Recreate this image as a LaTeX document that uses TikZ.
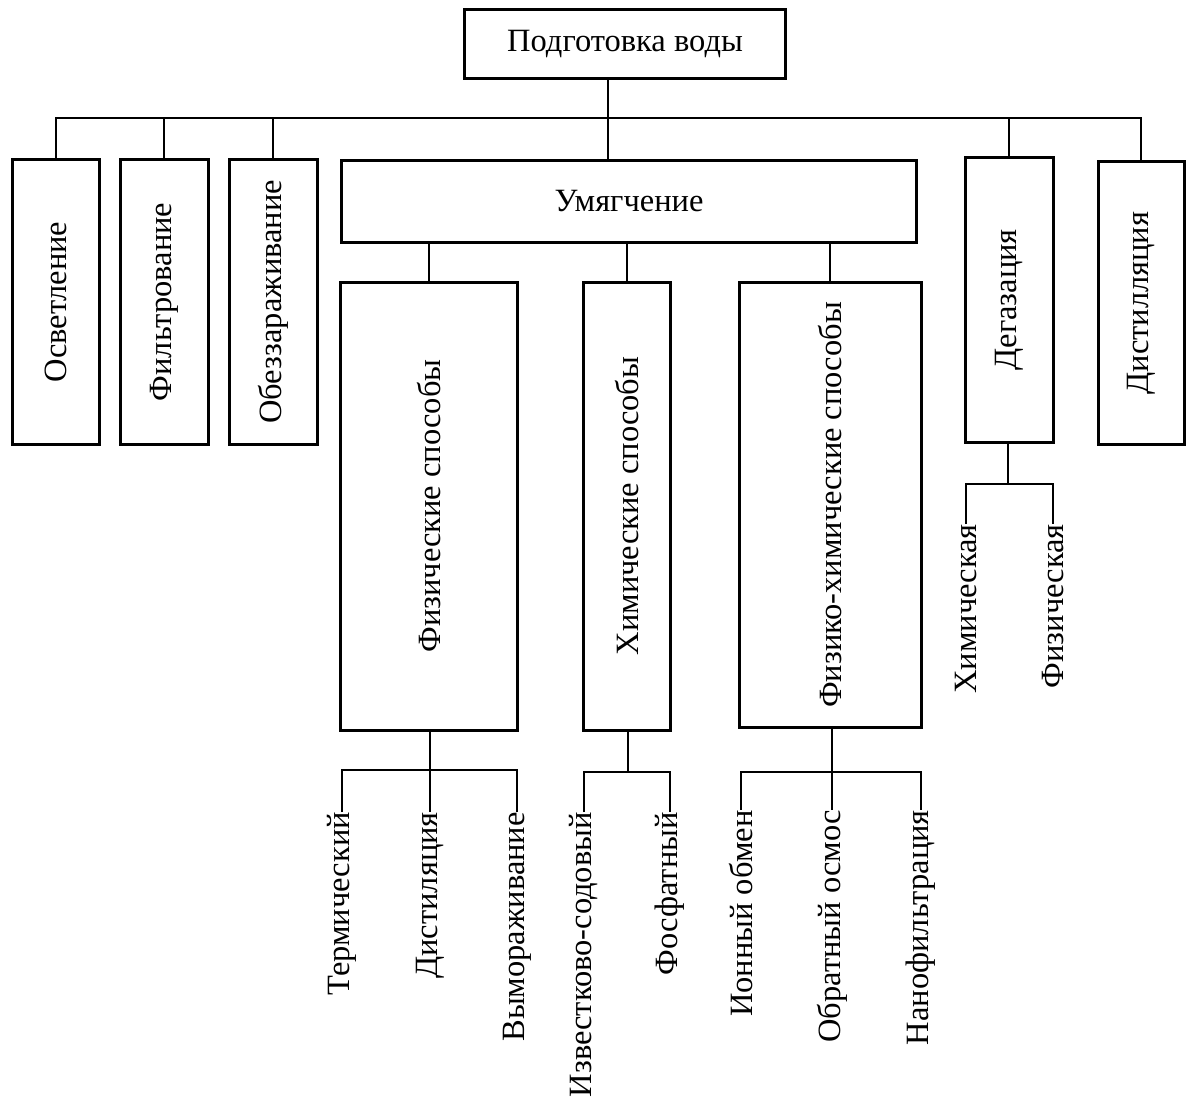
\documentclass[tikz,border=0pt]{standalone}
\usepackage{fontspec}
\setmainfont{Liberation Serif}
\usepackage{tikz}
\usetikzlibrary{calc}
\newcommand{\diagfont}{\fontsize{32.5}{38}\selectfont}
\tikzset{
  box/.style={draw, line width=3pt, inner sep=0pt, align=center, font=\diagfont},
  vbox/.style 2 args={box, minimum width=#1, minimum height=#2},
  leaf/.style={rotate=90, anchor=east, inner sep=0pt, font=\diagfont},
  link/.style={line width=1.8pt},
  trunk/.style={line width=2.8pt},
}

\begin{document}
\begin{tikzpicture}[x=1pt, y=-1pt]
  \useasboundingbox (0,0) rectangle (1187,1096);
  % top level
  \node[vbox={321pt}{69pt}] (root) at (625,44) {Подготовка воды};
  \node[vbox={87pt}{285pt}] (osv) at (56,302) {\rotatebox{90}{Осветление}};
  \node[vbox={88pt}{285pt}] (filt) at (164,302) {\rotatebox{90}{Фильтрование}};
  \node[vbox={88pt}{285pt}] (obez) at (273,302) {\rotatebox{90}{Обеззараживание}};
  \node[vbox={575pt}{82pt}] (umg) at (629,201) {Умягчение};
  \node[vbox={88pt}{285pt}] (degaz) at (1009,300) {\rotatebox{90}{Дегазация}};
  \node[vbox={86pt}{283pt}] (distl) at (1141,303) {\rotatebox{90}{Дистилляция}};
  \coordinate (bus) at (608,118);
  \draw[trunk] (root.south -| bus) -- (umg.north -| bus);
  \draw[link] (osv.north) |- (bus) -| (distl.north);
  \foreach \n in {filt,obez,degaz}
    \draw[link] (\n.north) -- (\n.north |- bus);

  % softening methods
  \node[vbox={177pt}{448pt}] (fiz) at (429,506) {\rotatebox{90}{Физические способы}};
  \node[vbox={87pt}{448pt}] (him) at (627,506) {\rotatebox{90}{Химические способы}};
  \node[vbox={182pt}{445pt}] (fizhim) at (830,505) {\rotatebox{90}{Физико-химические способы}};
  \foreach \n in {fiz,him,fizhim}
    \draw[link] (\n.north) -- (\n.north |- umg.south);

  % leaves
  \node[leaf] (term) at (342,812) {Термический};
  \node[leaf] (dist) at (430,812) {Дистиляция};
  \node[leaf] (vymor) at (517,812) {Вымораживание};
  \node[leaf] (izv) at (584,812) {Известково-содовый};
  \node[leaf] (fosf) at (670,812) {Фосфатный};
  \node[leaf] (ion) at (741,810) {Ионный обмен};
  \node[leaf] (osm) at (832,810) {Обратный осмос};
  \node[leaf] (nano) at (921,810) {Нанофильтрация};
  \node[leaf] (hdeg) at (966,524) {Химическая};
  \node[leaf] (fdeg) at (1053,524) {Физическая};

  \coordinate (fbus) at (430,770);
  \coordinate (hbus) at (628,772);
  \coordinate (fhbus) at (832,772);
  \coordinate (dbus) at (1008,484);
  \draw[link] (fiz.south -| fbus) -- (fbus);
  \draw[link] (term.east) |- (fbus) -| (vymor.east);
  \draw[link] (dist.east) -- (dist.east |- fbus);
  \draw[link] (him.south -| hbus) -- (hbus);
  \draw[link] (izv.east) |- (hbus) -| (fosf.east);
  \draw[link] (fizhim.south -| fhbus) -- (fhbus);
  \draw[link] (ion.east) |- (fhbus) -| (nano.east);
  \draw[link] (osm.east) -- (osm.east |- fhbus);
  \draw[link] (degaz.south -| dbus) -- (dbus);
  \draw[link] (hdeg.east) |- (dbus) -| (fdeg.east);
\end{tikzpicture}
\end{document}
